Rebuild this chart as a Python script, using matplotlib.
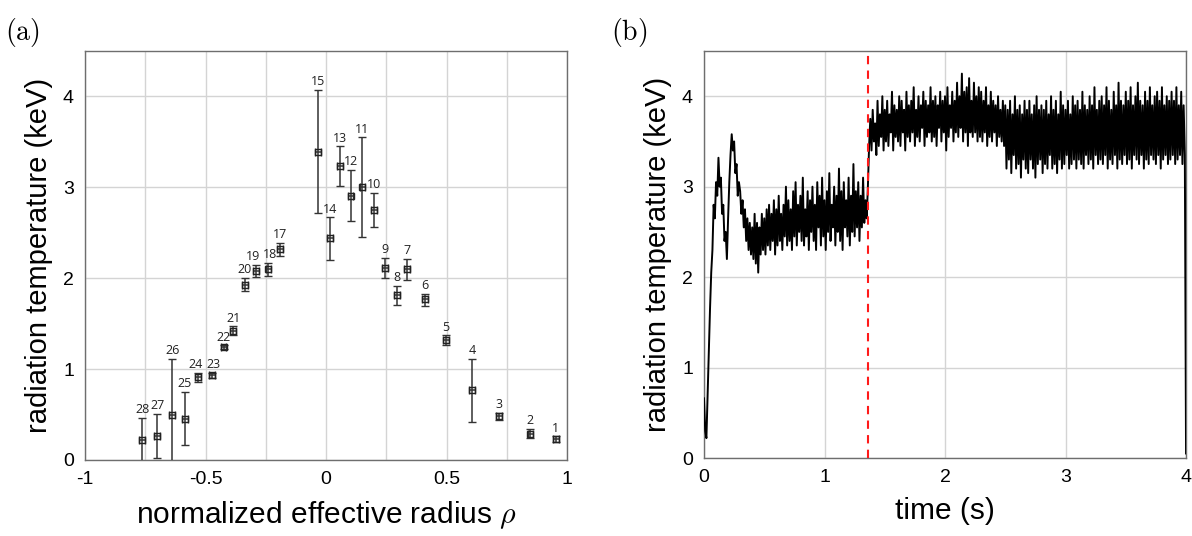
import matplotlib
matplotlib.use('Agg')
import matplotlib.pyplot as plt
import numpy as np

plt.rcParams['font.family'] = ['Liberation Sans', 'DejaVu Sans']
plt.rcParams['mathtext.fontset'] = 'cm'

# (a) radial profile, chord numbers 1..28
chord = [1, 2, 3, 4, 5, 6, 7, 8, 9, 10, 11, 12, 13, 14, 15, 17, 18, 19, 20,
         21, 22, 23, 24, 25, 26, 27, 28]
rho = [0.954, 0.848, 0.719, 0.606, 0.498, 0.411, 0.337, 0.296, 0.245, 0.199,
       0.151, 0.102, 0.059, 0.017, -0.032, -0.190, -0.239, -0.289, -0.337,
       -0.385, -0.425, -0.472, -0.532, -0.585, -0.638, -0.700, -0.763]
temp = [0.23, 0.29, 0.48, 0.77, 1.32, 1.77, 2.10, 1.82, 2.11, 2.75,
        3.00, 2.91, 3.23, 2.44, 3.39, 2.32, 2.10, 2.08, 1.93,
        1.42, 1.24, 0.93, 0.91, 0.45, 0.50, 0.26, 0.22]
err_lo = [0.03, 0.05, 0.04, 0.35, 0.05, 0.08, 0.12, 0.11, 0.11, 0.19,
          0.55, 0.28, 0.21, 0.24, 0.67, 0.07, 0.07, 0.07, 0.07,
          0.05, 0.02, 0.03, 0.05, 0.29, 0.60, 0.24, 0.30]
err_hi = [0.03, 0.05, 0.04, 0.34, 0.05, 0.06, 0.11, 0.10, 0.11, 0.19,
          0.55, 0.28, 0.22, 0.23, 0.68, 0.07, 0.07, 0.07, 0.07,
          0.05, 0.02, 0.03, 0.05, 0.30, 0.61, 0.25, 0.24]
rho_err = 0.012

# (b) time trace, sampled every 10 ms from t = 0
dt = 0.01
trace = [
    0.66, 0.30, 0.22, 0.70, 1.20, 1.65, 2.05, 2.30, 2.80, 2.65,
    3.05, 2.90, 3.32, 3.00, 3.10, 2.70, 2.80, 2.40, 2.50, 2.20,
    2.65, 3.05, 3.35, 3.58, 3.40, 3.50, 3.15, 3.25, 2.90, 3.05,
    2.95, 2.70, 2.85, 2.55, 2.75, 2.40, 2.65, 2.30, 2.60, 2.25, 2.55, 2.20, 2.70, 2.15, 2.60, 2.05, 2.55, 2.25, 2.70, 2.30,
    2.65, 2.25, 2.75, 2.35, 2.80, 2.30, 2.70, 2.40, 2.85, 2.25, 2.75, 2.35, 2.90, 2.40, 2.70, 2.30, 2.80, 2.45, 3.00, 2.35,
    2.85, 2.40, 2.75, 2.30, 2.95, 2.45, 3.05, 2.35, 2.80, 2.50, 2.90, 2.40, 3.10, 2.35, 2.75, 2.45, 2.95, 2.30, 2.85, 2.50,
    3.00, 2.40, 2.80, 2.30, 3.05, 2.55, 2.90, 2.35, 3.10, 2.45, 2.85, 2.30, 2.95, 2.50, 3.15, 2.40, 2.80, 2.55, 3.00, 2.35,
    2.90, 2.50, 3.20, 2.40, 2.95, 2.30, 3.05, 2.55, 2.85, 2.45, 3.10, 2.35, 2.90, 2.50, 3.25, 2.45, 2.95, 2.55, 3.05, 2.40,
    2.90, 2.55, 3.10, 2.60, 2.85, 2.65, 3.00, 3.45, 3.75, 3.40, 3.85, 3.50, 3.70, 3.35, 3.95, 3.45, 3.80, 3.55, 4.00, 3.40,
    3.85, 3.50, 3.95, 3.45, 3.80, 3.60, 4.05, 3.40, 3.90, 3.55, 3.85, 3.50, 4.00, 3.45, 3.95, 3.60, 3.85, 3.40, 4.05, 3.55,
    3.90, 3.50, 3.95, 3.60, 4.10, 3.45, 3.85, 3.55, 4.00, 3.50, 3.90, 3.65, 4.05, 3.45, 3.95, 3.55, 3.90, 3.60, 4.10, 3.50,
    3.95, 3.55, 4.00, 3.45, 3.90, 3.65, 4.05, 3.50, 3.95, 3.60, 4.00, 3.40, 4.10, 3.55, 3.90, 3.65, 4.05, 3.50, 3.95, 3.60,
    4.15, 3.55, 4.00, 3.65, 4.25, 3.50, 4.05, 3.60, 4.10, 3.45, 4.20, 3.60, 3.95, 3.55, 4.15, 3.60, 4.00, 3.50, 4.10, 3.55,
    4.05, 3.50, 3.95, 3.60, 4.10, 3.45, 3.90, 3.55, 4.05, 3.50, 3.95, 3.60, 3.90, 3.45, 4.00, 3.55, 3.85, 3.50, 3.95, 3.45,
    3.90, 3.20, 3.85, 3.30, 3.95, 3.15, 3.80, 3.35, 4.00, 3.20, 3.85, 3.25, 3.90, 3.10, 3.80, 3.30, 3.95, 3.20, 3.85, 3.15,
    3.95, 3.30, 3.80, 3.20, 3.90, 3.10, 4.00, 3.25, 3.85, 3.30, 3.90, 3.15, 3.85, 3.25, 3.95, 3.20, 3.80, 3.35, 4.00, 3.20,
    3.85, 3.25, 3.95, 3.15, 3.80, 3.30, 4.05, 3.20, 3.90, 3.25, 3.85, 3.35, 3.95, 3.20, 3.80, 3.25, 4.00, 3.30, 3.90, 3.20,
    3.95, 3.30, 3.85, 3.25, 4.05, 3.20, 3.90, 3.35, 3.85, 3.25, 4.00, 3.30, 3.90, 3.20, 4.10, 3.35, 3.85, 3.25, 3.95, 3.30,
    4.00, 3.25, 3.90, 3.35, 4.10, 3.20, 3.95, 3.30, 3.85, 3.25, 4.05, 3.35, 3.90, 3.20, 4.15, 3.30, 3.95, 3.25, 3.90, 3.35,
    4.05, 3.25, 3.95, 3.30, 4.10, 3.20, 3.90, 3.35, 4.00, 3.30, 4.15, 3.25, 3.95, 3.35, 3.90, 3.20, 4.05, 3.30, 3.95, 3.25,
    4.10, 3.35, 3.90, 3.30, 4.00, 3.25, 4.05, 3.35, 3.95, 3.20, 4.10, 3.30, 3.90, 3.35, 4.00, 3.25, 3.95, 3.30, 4.05, 3.35,
    3.95, 3.25, 4.10, 3.30, 3.90, 3.35, 4.05, 3.25, 3.90, 3.35, 0.05,
]
t_event = 1.36

time = np.arange(len(trace)) * dt

fig = plt.figure(figsize=(11.92, 5.36), dpi=100)
ax1 = fig.add_axes([0.0713, 0.1418, 0.4044, 0.763])
ax2 = fig.add_axes([0.5906, 0.1455, 0.4044, 0.7593])

grid_c = '#d4d4d4'
spine_c = '#6e6e6e'

# ---- (a) ----
ax1.errorbar(rho, temp, yerr=[err_lo, err_hi], xerr=rho_err, fmt='s',
             ms=4.5, mfc='none', mec='#222222', mew=1.0, ecolor='#333333',
             elinewidth=1.1, capsize=3, capthick=1.0, zorder=3)
# tightly packed labels get a small nudge apart
nudge = {19: -0.012, 18: 0.008, 24: -0.008, 23: 0.006}
for n, x, y, e in zip(chord, rho, temp, err_hi):
    ax1.text(x + nudge.get(n, 0), y + e + 0.02, str(n), ha='center', va='bottom',
             fontsize=9, family=['Open Sans', 'DejaVu Sans'], color='#222222')
ax1.set_xlim(-1, 1)
ax1.set_ylim(0, 4.5)
ax1.set_xticks([-1, -0.5, 0, 0.5, 1])
ax1.set_xticklabels(['-1', '-0.5', '0', '0.5', '1'])
ax1.set_xticks(np.arange(-0.75, 1, 0.25), minor=True)
ax1.set_yticks([0, 1, 2, 3, 4])
ax1.grid(True, which='both', color=grid_c, lw=1.0)
ax1.set_axisbelow(True)
ax1.set_xlabel(r'normalized effective radius $\rho$', fontsize=21.5, labelpad=8)
ax1.set_ylabel('radiation temperature (keV)', fontsize=21, labelpad=7)

# ---- (b) ----
ax2.plot(time, trace, color='black', lw=1.4, zorder=3)
ax2.axvline(t_event, color='#ff1a1a', lw=1.5, ls=(0, (4, 3)), zorder=4)
ax2.set_xlim(0, 4)
ax2.set_ylim(0, 4.5)
ax2.set_xticks([0, 1, 2, 3, 4])
ax2.set_yticks([0, 1, 2, 3, 4])
ax2.grid(True, color=grid_c, lw=1.0)
ax2.set_axisbelow(True)
ax2.set_xlabel('time (s)', fontsize=21.5, labelpad=8)
ax2.set_ylabel('radiation temperature (keV)', fontsize=21, labelpad=7)

for ax in (ax1, ax2):
    for s in ax.spines.values():
        s.set_color(spine_c)
        s.set_linewidth(1.0)
    ax.tick_params(which='both', direction='in', length=0, labelsize=14, pad=8)

fig.text(0.004, 0.925, r'$\mathrm{(a)}$', fontsize=20)
fig.text(0.513, 0.925, r'$\mathrm{(b)}$', fontsize=20)

fig.savefig('out.png', dpi=100)
